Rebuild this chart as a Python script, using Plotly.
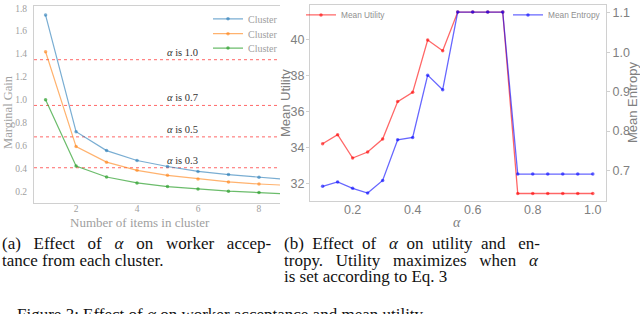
import plotly.graph_objects as go

W, H = 640, 314

# ---------------- data: left panel ----------------
items = [1, 2, 3, 4, 5, 6, 7, 8, 9]
cluster_blue = [1.74, 0.72, 0.555, 0.468, 0.416, 0.373, 0.345, 0.321, 0.300]
cluster_orange = [1.42, 0.59, 0.454, 0.382, 0.339, 0.307, 0.281, 0.263, 0.250]
cluster_green = [1.00, 0.42, 0.324, 0.272, 0.240, 0.220, 0.200, 0.188, 0.175]
cluster_names = ["Cluster", "Cluster", "Cluster"]
threshold_vals = [1.35, 0.95, 0.675, 0.405]
threshold_labels = ["1.0", "0.7", "0.5", "0.3"]
left_xticks = [2, 4, 6, 8]
left_yticks = [0.2, 0.4, 0.6, 0.8, 1.0, 1.2, 1.4, 1.6, 1.8]

# ---------------- data: right panel ----------------
alpha = [0.10, 0.15, 0.20, 0.25, 0.30, 0.35, 0.40, 0.45, 0.50, 0.55,
         0.60, 0.65, 0.70, 0.75, 0.80, 0.85, 0.90, 0.95, 1.00]
mean_utility = [34.22, 34.72, 33.43, 33.76, 34.48, 36.55, 37.06, 39.95, 39.36, 41.50,
                41.50, 41.50, 41.50, 31.47, 31.47, 31.47, 31.47, 31.47, 31.47]
mean_entropy = [0.660, 0.671, 0.655, 0.643, 0.675, 0.778, 0.784, 0.942, 0.905, 1.102,
                1.102, 1.102, 1.102, 0.691, 0.691, 0.691, 0.691, 0.691, 0.691]
right_xticks = [0.2, 0.4, 0.6, 0.8, 1.0]
util_ticks = [32, 34, 36, 38, 40]
entropy_ticks = [0.7, 0.8, 0.9, 1.0, 1.1]

NB = "\u00a0"
captions_a = ["(a)" + NB + NB + " Effect" + NB + NB + " of" + NB + NB + " <i>α</i>" + NB + NB + " on" + NB + NB
              + " worker" + NB + NB + " accep-",
              "tance from each cluster."]
captions_b = ["(b)" + NB + " Effect" + NB + " of" + NB + NB + " <i>α</i>" + NB + " on" + NB + " utility"
              + NB + " and" + NB + NB + " en-",
              "tropy." + NB + NB + " Utility" + NB + NB + " maximizes" + NB + NB + " when" + NB + NB + " <i>α</i>",
              "is set according to Eq. 3"]
figure_caption = "Figure 3: Effect of <i>α</i> on worker acceptance and mean utility"


def px(x):
    return x / W


def py(y):
    return 1 - y / H


SERIF = "Liberation Serif"
SANS = "Liberation Sans"

fig = go.Figure()

left_colors = ["rgba(31,119,180,0.6)", "rgba(255,127,14,0.6)", "rgba(44,160,44,0.7)"]
left_series = [cluster_blue, cluster_orange, cluster_green]
legend_ids = ["legend", "legend2", "legend3"]
for vals, col, name, lg in zip(left_series, left_colors, cluster_names, legend_ids):
    fig.add_trace(go.Scatter(
        x=items, y=vals, mode="lines+markers", name=name,
        line=dict(color=col, width=1.2), marker=dict(color=col, size=3.5),
        xaxis="x", yaxis="y", legend=lg, cliponaxis=True))

for v in threshold_vals:
    fig.add_shape(type="line", xref="x domain", yref="y", x0=0, x1=1, y0=v, y1=v,
                  line=dict(color="rgba(255,40,40,0.7)", width=1, dash="dot"),
                  layer="below")

fig.add_trace(go.Scatter(
    x=alpha, y=mean_utility, mode="lines+markers", name="Mean Utility",
    line=dict(color="rgba(255,0,0,0.6)", width=1.3),
    marker=dict(color="rgba(255,0,0,0.6)", size=3.5),
    xaxis="x2", yaxis="y2", legend="legend4"))
fig.add_trace(go.Scatter(
    x=alpha, y=mean_entropy, mode="lines+markers", name="Mean Entropy",
    line=dict(color="rgba(0,0,255,0.6)", width=1.3),
    marker=dict(color="rgba(0,0,255,0.6)", size=3.5),
    xaxis="x2", yaxis="y3", legend="legend5"))

frame = "#d0d0d0"
fig.update_layout(
    width=W, height=H, autosize=False,
    margin=dict(l=0, r=0, t=0, b=0),
    paper_bgcolor="white", plot_bgcolor="white",
    xaxis=dict(domain=[px(34), px(280)], range=[0.62, 8.69],
               tickvals=left_xticks, ticktext=[str(t) for t in left_xticks],
               showgrid=False, zeroline=False, showline=True, mirror=True,
               linecolor=frame, linewidth=1, ticks="", ticklabelstandoff=-3,
               tickfont=dict(family=SERIF, size=9.5, color="#a0a0a0"),
               anchor="y"),
    yaxis=dict(domain=[py(202), py(3)], range=[0.096, 1.82],
               tickvals=left_yticks, ticktext=["%.1f" % t for t in left_yticks],
               showgrid=False, zeroline=False, showline=True, mirror=False,
               linecolor=frame, linewidth=1, ticks="", ticklabelstandoff=4,
               tickfont=dict(family=SERIF, size=9.5, color="#a0a0a0"),
               anchor="x"),
    xaxis2=dict(domain=[px(310), px(606)], range=[0.058, 1.044],
                tickvals=right_xticks, ticktext=["%.1f" % t for t in right_xticks],
                showgrid=False, zeroline=False, showline=True, mirror=True,
                linecolor=frame, linewidth=1.2, ticks="", ticklabelstandoff=-3,
                tickfont=dict(family=SANS, size=12.5, color="#808080"),
                anchor="y2"),
    yaxis2=dict(domain=[py(200), py(2)], range=[31.05, 41.89],
                tickvals=util_ticks, ticktext=[str(t) for t in util_ticks],
                showgrid=False, zeroline=False, showline=True, mirror=True,
                linecolor=frame, linewidth=1.2, ticks="outside", ticklen=3,
                tickcolor=frame, ticklabelstandoff=-1,
                tickfont=dict(family=SANS, size=12.5, color="#808080"),
                anchor="x2"),
    yaxis3=dict(overlaying="y2", side="right", range=[0.6225, 1.12],
                tickvals=entropy_ticks, ticktext=["%.1f" % t for t in entropy_ticks],
                showgrid=False, zeroline=False, showline=False,
                ticks="outside", ticklen=3, tickcolor=frame,
                tickfont=dict(family=SANS, size=12.5, color="#808080"),
                anchor="x2"),
    showlegend=True,
)

# legends (one per entry so that each sits where the reference puts it)
leg_common = dict(bgcolor="rgba(0,0,0,0)", borderwidth=0, xanchor="left",
                  yanchor="middle", itemclick=False)
fig.update_layout(
    legend=dict(x=px(208), y=py(16), font=dict(family=SERIF, size=10, color="#a0a0a0"), **leg_common),
    legend2=dict(x=px(208), y=py(31), font=dict(family=SERIF, size=10, color="#a0a0a0"), **leg_common),
    legend3=dict(x=px(208), y=py(45.5), font=dict(family=SERIF, size=10, color="#a0a0a0"), **leg_common),
    legend4=dict(x=px(301), y=py(12), font=dict(family=SANS, size=8.3, color="#909090"), **leg_common),
    legend5=dict(x=px(508), y=py(12), font=dict(family=SANS, size=8.3, color="#909090"), **leg_common),
)

ann = []
for v, lab in zip(threshold_vals, threshold_labels):
    ann.append(dict(x=5.5, y=v, xref="x", yref="y", text="<i>α</i> is " + lab,
                    showarrow=False, xanchor="center", yanchor="bottom", yshift=0,
                    font=dict(family=SERIF, size=10.5, color="#333333")))


def paper_text(x, y, text, font, angle=0, xanchor="center"):
    return dict(x=px(x), y=py(y), xref="paper", yref="paper", text=text,
                textangle=angle, showarrow=False, xanchor=xanchor, yanchor="middle",
                font=font)


ann.append(paper_text(8, 110, "Marginal Gain", dict(family=SERIF, size=12.5, color="#a0a0a0"), -90))
ann.append(paper_text(140, 222, "Number of items in cluster", dict(family=SERIF, size=13, color="#a0a0a0")))
ann.append(paper_text(285, 101, "Mean Utility", dict(family=SANS, size=13, color="#808080"), -90))
ann.append(paper_text(632, 101, "Mean Entropy", dict(family=SANS, size=13, color="#808080"), -90))
ann.append(paper_text(457, 222, "<i>α</i>", dict(family=SERIF, size=14, color="#808080")))

cap_font = dict(family=SERIF, size=17, color="#111111")
for i, t in enumerate(captions_a):
    ann.append(paper_text(0, 242.5 + 17 * i, t, cap_font, xanchor="left"))
for i, t in enumerate(captions_b):
    ann.append(paper_text(282, 242.5 + 17 * i, t, cap_font, xanchor="left"))
ann.append(paper_text(15, 314, figure_caption, cap_font, xanchor="left"))

fig.update_layout(annotations=ann)

fig.write_html("out.html", config={"displayModeBar": False},
               post_script="document.body.style.margin='0';document.body.style.overflow='hidden';")
